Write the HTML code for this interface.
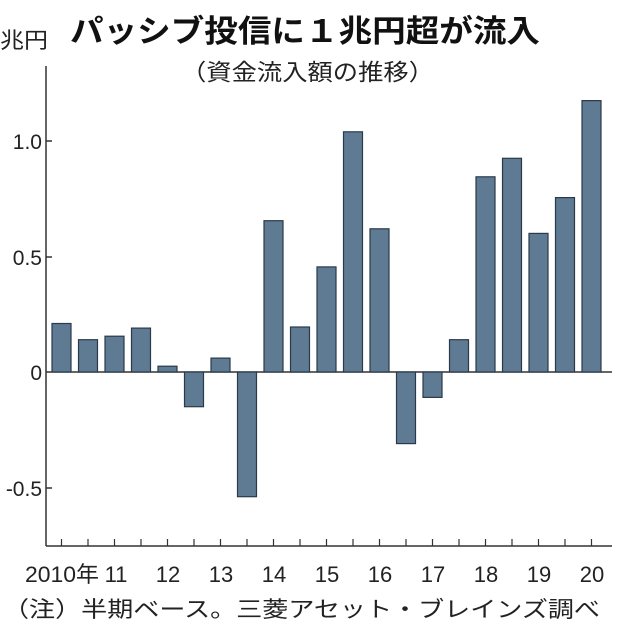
<!DOCTYPE html>
<html><head><meta charset="utf-8"><style>
body{margin:0;background:#fff;}
svg{display:block;font-family:"Liberation Sans","Noto Sans CJK JP",sans-serif;}
</style></head><body>
<svg width="630" height="636" viewBox="0 0 630 636">
<text x="70" y="42" font-size="31" font-weight="bold" fill="#111" textLength="470" lengthAdjust="spacingAndGlyphs">パッシブ投信に１兆円超が流入</text>
<text x="0" y="48" font-size="22" fill="#222" textLength="48" lengthAdjust="spacingAndGlyphs">兆円</text>
<text x="181" y="80" font-size="23" fill="#222" textLength="253" lengthAdjust="spacingAndGlyphs">（資金流入額の推移）</text>
<g stroke="#333" stroke-width="1.5" fill="none">
<line x1="46" y1="66" x2="46" y2="546"/>
<line x1="46" y1="546" x2="612" y2="546"/>
<line x1="46" y1="372" x2="612" y2="372"/>
<line x1="46" y1="141" x2="52" y2="141"/>
<line x1="46" y1="257" x2="52" y2="257"/>
<line x1="46" y1="488" x2="52" y2="488"/>
</g>
<g font-size="21" fill="#222" text-anchor="end">
<text x="42" y="149">1.0</text>
<text x="42" y="265">0.5</text>
<text x="42" y="380">0</text>
<text x="42" y="496">-0.5</text>
</g>
<g fill="#5f7a93" stroke="#2a3a4a" stroke-width="1.2">
<rect x="52" y="323.5" width="19" height="48.5"/>
<rect x="78.5" y="339.7" width="19" height="32.3"/>
<rect x="105" y="336.2" width="19" height="35.8"/>
<rect x="131.5" y="328.1" width="19" height="43.9"/>
<rect x="158" y="366.2" width="19" height="5.8"/>
<rect x="184.5" y="372" width="19" height="34.7"/>
<rect x="211" y="358.1" width="19" height="13.9"/>
<rect x="237.5" y="372" width="19" height="124.7"/>
<rect x="264" y="220.7" width="19" height="151.3"/>
<rect x="290.5" y="327" width="19" height="45"/>
<rect x="317" y="266.9" width="19" height="105.1"/>
<rect x="343.5" y="131.8" width="19" height="240.2"/>
<rect x="370" y="228.8" width="19" height="143.2"/>
<rect x="396.5" y="372" width="19" height="71.6"/>
<rect x="423" y="372" width="19" height="25.4"/>
<rect x="449.5" y="339.7" width="19" height="32.3"/>
<rect x="476" y="176.8" width="19" height="195.2"/>
<rect x="502.5" y="158.3" width="19" height="213.7"/>
<rect x="529" y="233.4" width="19" height="138.6"/>
<rect x="555.5" y="197.6" width="19" height="174.4"/>
<rect x="582" y="100.6" width="19" height="271.4"/>
</g>
<g stroke="#333" stroke-width="1.2">
<line x1="61.5" y1="546" x2="61.5" y2="539"/><line x1="88" y1="546" x2="88" y2="539"/>
<line x1="114.5" y1="546" x2="114.5" y2="539"/><line x1="141" y1="546" x2="141" y2="539"/>
<line x1="167.5" y1="546" x2="167.5" y2="539"/><line x1="194" y1="546" x2="194" y2="539"/>
<line x1="220.5" y1="546" x2="220.5" y2="539"/><line x1="247" y1="546" x2="247" y2="539"/>
<line x1="273.5" y1="546" x2="273.5" y2="539"/><line x1="300" y1="546" x2="300" y2="539"/>
<line x1="326.5" y1="546" x2="326.5" y2="539"/><line x1="353" y1="546" x2="353" y2="539"/>
<line x1="379.5" y1="546" x2="379.5" y2="539"/><line x1="406" y1="546" x2="406" y2="539"/>
<line x1="432.5" y1="546" x2="432.5" y2="539"/><line x1="459" y1="546" x2="459" y2="539"/>
<line x1="485.5" y1="546" x2="485.5" y2="539"/><line x1="512" y1="546" x2="512" y2="539"/>
<line x1="538.5" y1="546" x2="538.5" y2="539"/><line x1="565" y1="546" x2="565" y2="539"/>
<line x1="591.5" y1="546" x2="591.5" y2="539"/>
</g>
<g font-size="22" fill="#222" text-anchor="middle">
<text x="116" y="582">11</text><text x="168" y="582">12</text><text x="221" y="582">13</text>
<text x="274" y="582">14</text><text x="327" y="582">15</text><text x="380" y="582">16</text>
<text x="433" y="582">17</text><text x="486" y="582">18</text><text x="539" y="582">19</text>
<text x="592" y="582">20</text>
</g>
<text x="25" y="582" font-size="22" fill="#222" textLength="74" lengthAdjust="spacingAndGlyphs">2010年</text>
<text x="3" y="617" font-size="22" fill="#222" textLength="597" lengthAdjust="spacingAndGlyphs">（注）半期ベース。三菱アセット・ブレインズ調べ</text>
</svg>
</body></html>
